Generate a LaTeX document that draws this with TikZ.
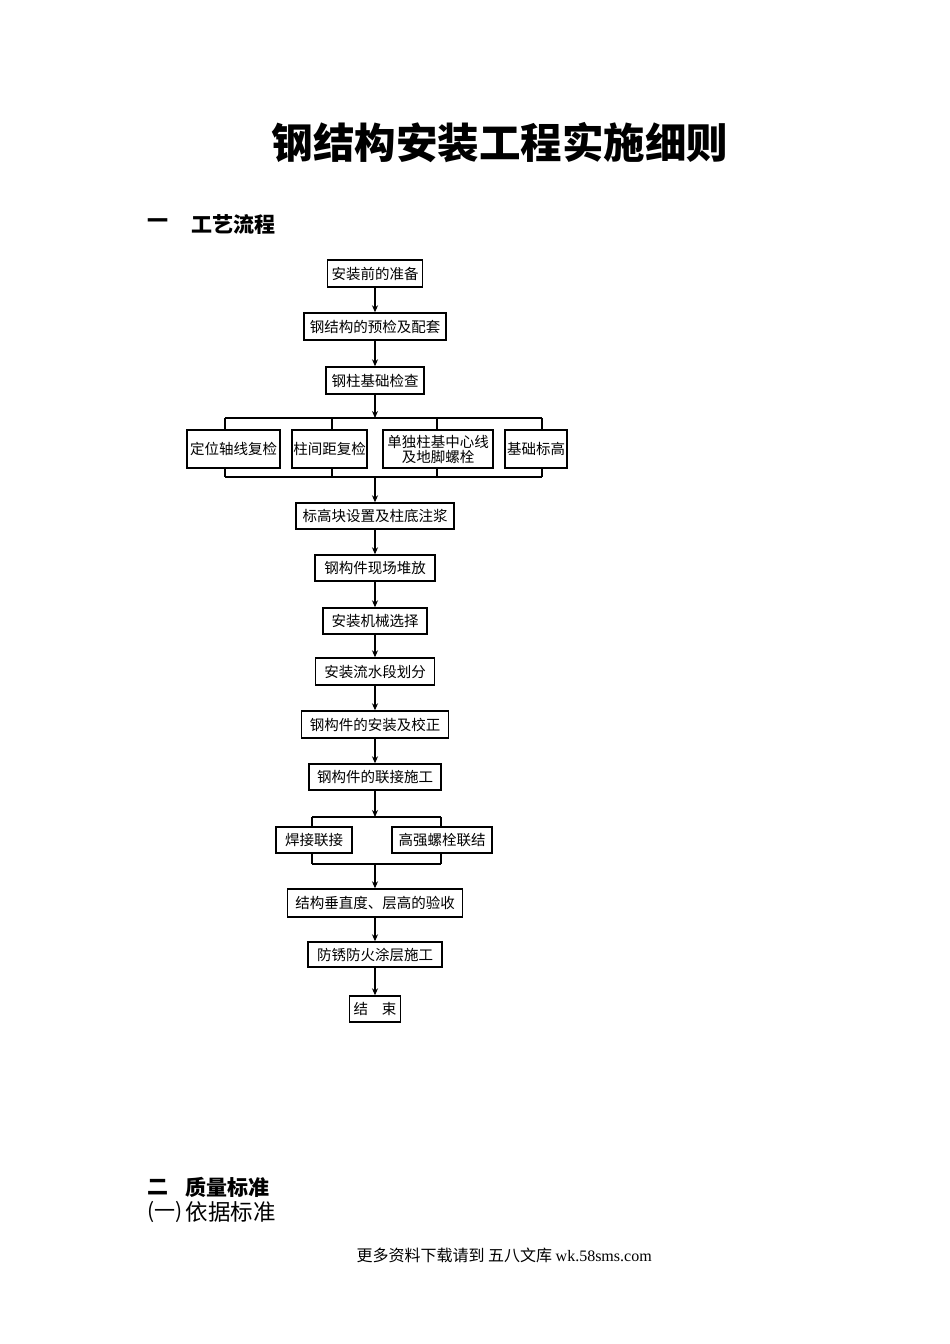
\documentclass[tikz,border=0pt]{standalone}
\usepackage{fontspec}
\setmainfont{Noto Sans CJK SC}
\newfontfamily\cjk{Noto Sans CJK SC}
\newfontfamily\latserif{Liberation Serif}
\usetikzlibrary{arrows.meta}
\begin{document}
\begin{tikzpicture}[x=1pt,y=-1pt,
  box/.style={draw,line width=1.4pt,inner sep=0pt,minimum height=27pt,font=\cjk\fontsize{14.5}{16}\selectfont,align=center},
  conn/.style={line width=1.4pt},
  arr/.style={line width=1.4pt,-{Stealth[length=7pt,width=6pt]}}]
\useasboundingbox (0,0) rectangle (950,1344);
\fill[white] (0,0) rectangle (950,1344);
% title and headings
\node[font=\cjk\bfseries\fontsize{41.5}{46}\selectfont] (title) at (500,143) {钢结构安装工程实施细则};
\node[anchor=west,font=\cjk\bfseries\fontsize{21}{24}\selectfont] (h1a) at (144,224) {一};
\node[anchor=west,font=\cjk\bfseries\fontsize{21}{24}\selectfont] (h1b) at (188,224) {工艺流程};
\node[anchor=west,font=\cjk\bfseries\fontsize{21}{24}\selectfont] (h2a) at (144,1187) {二};
\node[anchor=west,font=\cjk\bfseries\fontsize{21}{24}\selectfont] (h2b) at (182,1187) {质量标准};
\node[anchor=west,font=\cjk\fontsize{21}{24}\selectfont] (h3a) at (144,1212) {(一)};
\node[anchor=west,font=\cjk\fontsize{22.5}{24}\selectfont] (h3b) at (182,1212) {依据标准};
\node[anchor=west,font=\fontsize{16}{18}\selectfont] (foot) at (353,1255) {\cjk 更多资料下载请到 五八文库 \latserif wk.58sms.com};
% main chain
\node[box,minimum width=95pt] (b1) at (375,273.5) {安装前的准备};
\node[box,minimum width=142pt] (b2) at (375,326.5) {钢结构的预检及配套};
\node[box,minimum width=98pt] (b3) at (375,380.5) {钢柱基础检查};
\node[box,minimum width=93pt,minimum height=38pt] (r1) at (233.5,449) {定位轴线复检};
\node[box,minimum width=75pt,minimum height=38pt] (r2) at (329.5,449) {柱间距复检};
\node[box,minimum width=110pt,minimum height=38pt,font=\cjk\fontsize{14.5}{15}\selectfont] (r3) at (438,449) {单独柱基中心线\\及地脚螺栓};
\node[box,minimum width=62pt,minimum height=38pt] (r4) at (536,449) {基础标高};
\node[box,minimum width=158pt,minimum height=26pt] (b5) at (375,516) {标高块设置及柱底注浆};
\node[box,minimum width=120pt,minimum height=26pt] (b6) at (375,568) {钢构件现场堆放};
\node[box,minimum width=104pt,minimum height=26pt] (b7) at (375,621) {安装机械选择};
\node[box,minimum width=119pt] (b8) at (375,671.5) {安装流水段划分};
\node[box,minimum width=147pt] (b9) at (375,724.5) {钢构件的安装及校正};
\node[box,minimum width=132pt,minimum height=26pt] (b10) at (375,777) {钢构件的联接施工};
\node[box,minimum width=76pt,minimum height=26pt] (w1) at (314,840) {焊接联接};
\node[box,minimum width=100pt,minimum height=26pt] (w2) at (442,840) {高强螺栓联结};
\node[box,minimum width=175pt,minimum height=28pt] (b11) at (375,903) {结构垂直度、层高的验收};
\node[box,minimum width=134pt,minimum height=25pt] (b12) at (375,954.5) {防锈防火涂层施工};
\node[box,minimum width=51pt,minimum height=26pt] (b13) at (375,1009) {结\hspace{14pt}束};
% branch coordinates
\coordinate (ta) at (225,418);
\coordinate (tb) at (332,418);
\coordinate (tc) at (437,418);
\coordinate (td) at (542,418);
\coordinate (tm) at (375,418);
\coordinate (ua) at (225,477);
\coordinate (ub) at (332,477);
\coordinate (uc) at (437,477);
\coordinate (ud) at (542,477);
\coordinate (um) at (375,477);
\coordinate (va) at (312,817);
\coordinate (vb) at (441,817);
\coordinate (vm) at (375,817);
\coordinate (wa) at (312,864);
\coordinate (wb) at (441,864);
\coordinate (wm) at (375,864);
% connectors
\draw[arr] (b1) -- (b2);
\draw[arr] (b2) -- (b3);
\draw[arr] (b3) -- (tm);
\draw[conn] (ta) -- (td);
\draw[conn] (ta) -- (ta |- r1.north);
\draw[conn] (tb) -- (tb |- r2.north);
\draw[conn] (tc) -- (tc |- r3.north);
\draw[conn] (td) -- (td |- r4.north);
\draw[conn] (ua |- r1.south) -- (ua);
\draw[conn] (ub |- r2.south) -- (ub);
\draw[conn] (uc |- r3.south) -- (uc);
\draw[conn] (ud |- r4.south) -- (ud);
\draw[conn] (ua) -- (ud);
\draw[arr] (um) -- (b5);
\draw[arr] (b5) -- (b6);
\draw[arr] (b6) -- (b7);
\draw[arr] (b7) -- (b8);
\draw[arr] (b8) -- (b9);
\draw[arr] (b9) -- (b10);
\draw[arr] (b10) -- (vm);
\draw[conn] (va) -- (vb);
\draw[conn] (va) -- (va |- w1.north);
\draw[conn] (vb) -- (vb |- w2.north);
\draw[conn] (wa |- w1.south) -- (wa);
\draw[conn] (wb |- w2.south) -- (wb);
\draw[conn] (wa) -- (wb);
\draw[arr] (wm) -- (b11);
\draw[arr] (b11) -- (b12);
\draw[arr] (b12) -- (b13);
\end{tikzpicture}
\end{document}
